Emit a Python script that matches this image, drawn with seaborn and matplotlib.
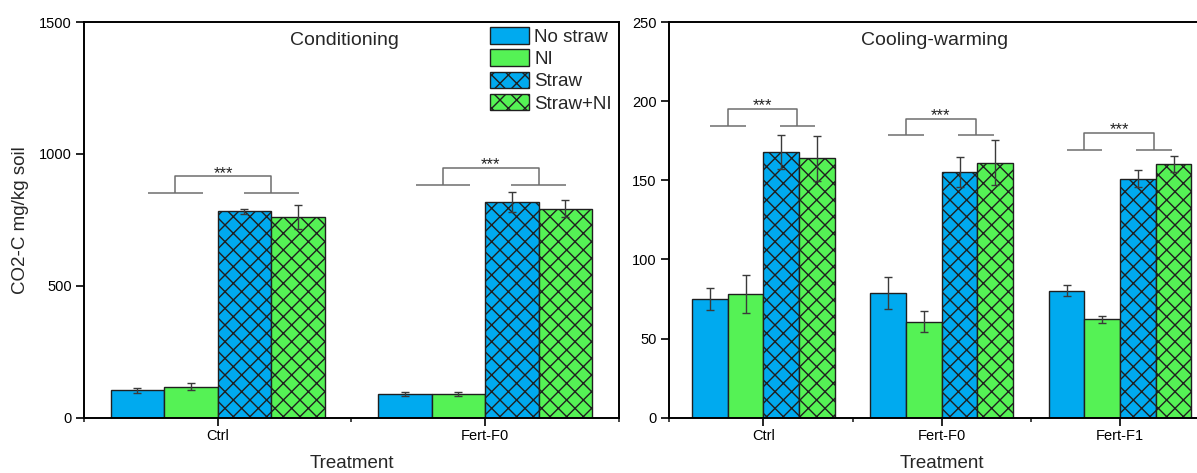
import numpy as np
import pandas as pd
import matplotlib
matplotlib.use("Agg")
import matplotlib.pyplot as plt
from matplotlib.ticker import FixedLocator
import seaborn as sns

# ---- data -------------------------------------------------------------
groups = ["No straw", "NI", "Straw", "Straw+NI"]

# Conditioning phase
cond_treatments = ["Ctrl", "Fert-F0"]
cond_no_straw = [104, 90]
cond_ni = [117, 90]
cond_straw = [782, 818]
cond_straw_ni = [762, 793]
cond_no_straw_se = [10, 6]
cond_ni_se = [13, 8]
cond_straw_se = [9, 38]
cond_straw_ni_se = [46, 32]
cond_bracket_base = [850, 883]
cond_bracket_top = [915, 948]
cond_yticks = [0, 500, 1000, 1500]

# Cooling-warming phase
cw_treatments = ["Ctrl", "Fert-F0", "Fert-F1"]
cw_no_straw = [75.1, 78.6, 80.3]
cw_ni = [78.2, 60.7, 62.2]
cw_straw = [167.7, 155.1, 151.1]
cw_straw_ni = [163.9, 161.2, 160.1]
cw_no_straw_se = [6.8, 10.0, 3.5]
cw_ni_se = [12.0, 6.4, 2.1]
cw_straw_se = [10.7, 9.4, 5.3]
cw_straw_ni_se = [14.2, 14.4, 5.0]
cw_bracket_base = [184.0, 178.5, 169.0]
cw_bracket_top = [195.0, 189.0, 180.0]
cw_yticks = [0, 50, 100, 150, 200, 250]

# ---- style ------------------------------------------------------------
sns.set_style("ticks")
plt.rcParams["font.family"] = ["Liberation Sans", "DejaVu Sans"]
plt.rcParams["hatch.linewidth"] = 1.0

palette = {"No straw": "#00AAEF", "NI": "#55F255",
           "Straw": "#00AAEF", "Straw+NI": "#55F255"}
hatched = {"Straw", "Straw+NI"}
edge = "#1f1f1f"
bracket_color = "#6e6e6e"


def long_table(treatments, series, errors):
    rows = []
    for g, vals, errs in zip(groups, series, errors):
        for t, v, e in zip(treatments, vals, errs):
            rows.append({"Treatment": t, "group": g, "value": v, "se": e})
    return pd.DataFrame(rows)


def draw_panel(ax, treatments, series, errors, base, top, yticks,
               title, xlim, bracket_offsets):
    df = long_table(treatments, series, errors)
    sns.barplot(data=df, x="Treatment", y="value", hue="group",
                order=treatments, hue_order=groups, palette=palette,
                saturation=1, errorbar=None, edgecolor=edge, linewidth=1.0,
                legend=False, ax=ax)
    bars = list(ax.containers[:len(groups)])

    for g, cont in zip(groups, bars):
        sub = df[df["group"] == g].set_index("Treatment")
        for patch in cont:
            cx = patch.get_x() + patch.get_width() / 2
            t = treatments[int(round(cx))]
            if g in hatched:
                patch.set_hatch("xx")
            ax.errorbar(cx, sub.loc[t, "value"], yerr=sub.loc[t, "se"],
                        fmt="none", ecolor="#3a3a3a", elinewidth=1.0,
                        capsize=2.6, capthick=1.0, zorder=4)

    # significance brackets between the no-straw and straw pairs
    lo, ro, hw = bracket_offsets
    for i, (b, tp) in enumerate(zip(base, top)):
        xl, xr = i + lo, i + ro
        kw = dict(color=bracket_color, lw=1.1, solid_capstyle="butt", zorder=3)
        ax.plot([xl - hw, xl + hw], [b, b], **kw)
        ax.plot([xr - hw, xr + hw], [b, b], **kw)
        ax.plot([xl, xl, xr, xr], [b, tp, tp, b], **kw)
        ax.annotate("***", xy=((xl + xr) / 2, tp), xytext=(0, -1),
                    textcoords="offset points", ha="center", va="baseline",
                    fontsize=12, color="#222222")

    ax.set_xlim(*xlim)
    ax.set_ylim(yticks[0], yticks[-1])
    ax.set_yticks(yticks)
    ax.xaxis.set_minor_locator(
        FixedLocator([xlim[0]] + [k + 0.5 for k in range(len(treatments))]))
    ax.tick_params(axis="both", which="major", direction="out", length=5.8,
                   width=1.2, labelsize=10.5, colors="black", pad=2.5)
    ax.tick_params(axis="y", pad=3)
    ax.tick_params(axis="x", which="minor", direction="out", length=3,
                   width=1.2)
    for sp in ax.spines.values():
        sp.set_visible(True)
        sp.set_linewidth(1.4)
        sp.set_color("black")

    ax.set_xlabel("Treatment", fontsize=13.5)
    ax.xaxis.label.set_va("center")
    ax.xaxis.set_label_coords(0.5, -0.1145)
    ax.set_ylabel("")
    ax.text(0.486, 0.953, title, transform=ax.transAxes, ha="center",
            va="center", fontsize=14)
    return bars


fig = plt.figure(figsize=(11.97, 4.73), dpi=100)
W, H = 1197.0, 473.0
bottom = 1 - 417.7 / H
height = 395.7 / H
ax1 = fig.add_axes([84 / W, bottom, 535 / W, height])
ax2 = fig.add_axes([669 / W, bottom, 545.6 / W, height])

bars = draw_panel(
    ax1, cond_treatments,
    [cond_no_straw, cond_ni, cond_straw, cond_straw_ni],
    [cond_no_straw_se, cond_ni_se, cond_straw_se, cond_straw_ni_se],
    cond_bracket_base, cond_bracket_top, cond_yticks,
    "Conditioning", (-0.5, 1.5), (-0.158, 0.2, 0.102))

draw_panel(
    ax2, cw_treatments,
    [cw_no_straw, cw_ni, cw_straw, cw_straw_ni],
    [cw_no_straw_se, cw_ni_se, cw_straw_se, cw_straw_ni_se],
    cw_bracket_base, cw_bracket_top, cw_yticks,
    "Cooling-warming", (-0.53, 2.53), (-0.2, 0.19, 0.1))

ax1.set_ylabel("CO2-C mg/kg soil", fontsize=13.5)
ax1.yaxis.label.set_va("center")
ax1.yaxis.set_label_coords(-0.118, 0.5)

ax1.legend(bars, groups, loc="upper left", bbox_to_anchor=(0.759, 0.987),
           frameon=False, fontsize=13.5, handlelength=2.05, handleheight=1.0,
           labelspacing=0.18, handletextpad=0.3, borderpad=0,
           borderaxespad=0)

fig.savefig("out.png", dpi=100)
